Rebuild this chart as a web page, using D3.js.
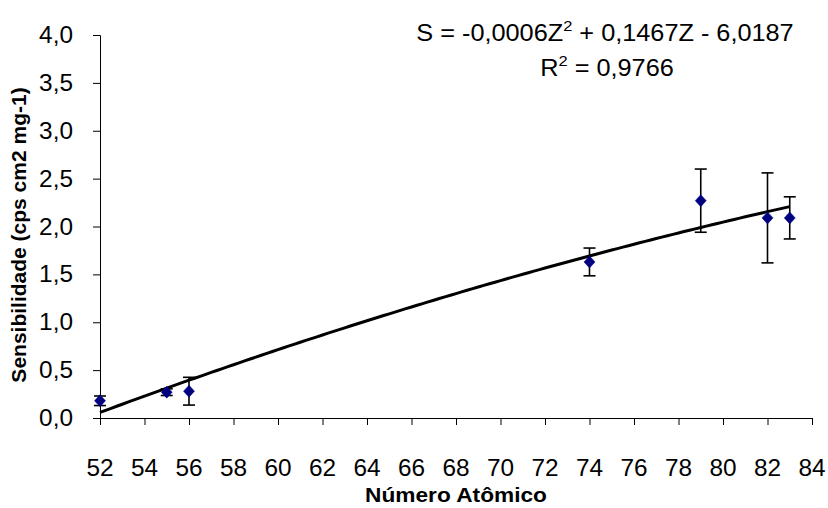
<!DOCTYPE html>
<html><head><meta charset="utf-8">
<script src="https://cdn.jsdelivr.net/npm/d3@7"></script>
<style>body{margin:0;background:#fff}svg{display:block}</style>
</head><body><svg id="c" width="828" height="508"></svg>
<script>
// ---- data ----
const atomicNumbers = [52, 55, 56, 74, 79, 82, 83];
const sensitivity   = [0.18, 0.27, 0.28, 1.63, 2.27, 2.09, 2.09];
const errorValues   = [0.05, 0.035, 0.145, 0.145, 0.33, 0.47, 0.22];
const xTickValues = [52,54,56,58,60,62,64,66,68,70,72,74,76,78,80,82,84];
const yTickValues = [0,0.5,1,1.5,2,2.5,3,3.5,4];
const xTitle = "Número Atômico";
const yTitle = "Sensibilidade (cps cm2 mg-1)";
const eqLine1 = ["S = -0,0006Z", "2", " + 0,1467Z - 6,0187"];
const eqLine2 = ["R", "2", " = 0,9766"];

// ---- layout ----
const svg = d3.select("#c");
const x = d3.scaleLinear().domain([52, 84]).range([100, 812]);
const y = d3.scaleLinear().domain([0, 4]).range([418, 35]);
const SX = 1.06;
const font = "'Liberation Sans', Arial, sans-serif";

// quadratic least-squares trendline (as the spreadsheet computed it)
function polyFit2(xs, ys) {
  const S = k => d3.sum(xs, v => Math.pow(v, k));
  const T = k => d3.sum(xs.map((v, i) => Math.pow(v, k) * ys[i]));
  const A = [[S(4), S(3), S(2), T(2)], [S(3), S(2), S(1), T(1)], [S(2), S(1), xs.length, T(0)]];
  for (let i = 0; i < 3; i++) {
    for (let r = i + 1; r < 3; r++) {
      const f = A[r][i] / A[i][i];
      for (let c = i; c < 4; c++) A[r][c] -= f * A[i][c];
    }
  }
  const s = [0, 0, 0];
  for (let i = 2; i >= 0; i--) {
    let v = A[i][3];
    for (let c = i + 1; c < 3; c++) v -= A[i][c] * s[c];
    s[i] = v / A[i][i];
  }
  return s; // a, b, c
}
const [qa, qb, qc] = polyFit2(atomicNumbers, sensitivity);
const fitFn = z => qa * z * z + qb * z + qc;
const zMin = d3.min(atomicNumbers), zMax = d3.max(atomicNumbers);
const curveZ = d3.range(zMin, zMax + 0.001, 0.25);

// axes
const xAxis = d3.axisBottom(x).tickValues(xTickValues).tickSize(7).tickFormat("");
const yAxis = d3.axisLeft(y).tickValues(yTickValues).tickSize(7).tickFormat("");
const gx = svg.append("g").attr("transform", "translate(0,418)").call(xAxis);
const gy = svg.append("g").attr("transform", "translate(100,0)").call(yAxis);
[gx, gy].forEach(g => {
  g.select(".domain").attr("stroke", "#000").attr("stroke-width", 1);
  g.selectAll(".tick line").attr("stroke", "#000").attr("stroke-width", 1);
});

function sText(parent, px, py, str, size, anchor, weight, sx) {
  return parent.append("text")
    .attr("transform", `translate(${px},${py}) scale(${sx || SX},1)`)
    .attr("text-anchor", anchor).attr("font-family", font)
    .attr("font-size", size).attr("font-weight", weight || "normal")
    .attr("fill", "#000").text(str);
}

// tick labels
xTickValues.forEach(v => sText(svg, x(v), 476, String(v), 23, "middle"));
yTickValues.forEach(v => sText(svg, 73, y(v) + 8, d3.format(".1f")(v).replace(".", ","), 23, "end"));

// titles
sText(svg, 456, 502, xTitle, 21, "middle", "bold", 1.08);
svg.append("text")
  .attr("transform", `translate(26,235) rotate(-90)`)
  .attr("text-anchor", "middle").attr("font-family", font)
  .attr("font-size", 21).attr("font-weight", "bold").text(yTitle);

// trendline
svg.append("path")
  .datum(curveZ)
  .attr("d", d3.line().x(z => x(z)).y(z => y(fitFn(z))))
  .attr("fill", "none").attr("stroke", "#000").attr("stroke-width", 3);

// error bars
const pts = atomicNumbers.map((z, i) => ({ z, s: sensitivity[i], e: errorValues[i] }));
const eb = svg.append("g").attr("stroke", "#000").attr("stroke-width", 1.6);
pts.forEach(p => {
  const cx = x(p.z);
  eb.append("line").attr("x1", cx).attr("x2", cx).attr("y1", y(p.s - p.e)).attr("y2", y(p.s + p.e));
  [p.s - p.e, p.s + p.e].forEach(v =>
    eb.append("line").attr("x1", cx - 6).attr("x2", cx + 6).attr("y1", y(v)).attr("y2", y(v)));
});

// markers
svg.append("g").selectAll("path").data(pts).join("path")
  .attr("transform", d => `translate(${x(d.z)},${y(d.s)})`)
  .attr("d", "M0,-6L5.5,0L0,6L-5.5,0Z")
  .attr("fill", "#000080").attr("stroke", "#000080").attr("stroke-width", 0.5);

// equation text
function eq(parts, cx, by) {
  const t = svg.append("text")
    .attr("transform", `translate(${cx},${by}) scale(1.1,1)`)
    .attr("text-anchor", "middle").attr("font-family", font).attr("font-size", 23).attr("fill", "#000");
  t.append("tspan").text(parts[0]);
  t.append("tspan").attr("font-size", 15).attr("dy", -10).text(parts[1]);
  t.append("tspan").attr("dy", 10).text(parts[2]);
}
eq(eqLine1, 605, 41);
eq(eqLine2, 607, 76);
</script>
</body></html>
